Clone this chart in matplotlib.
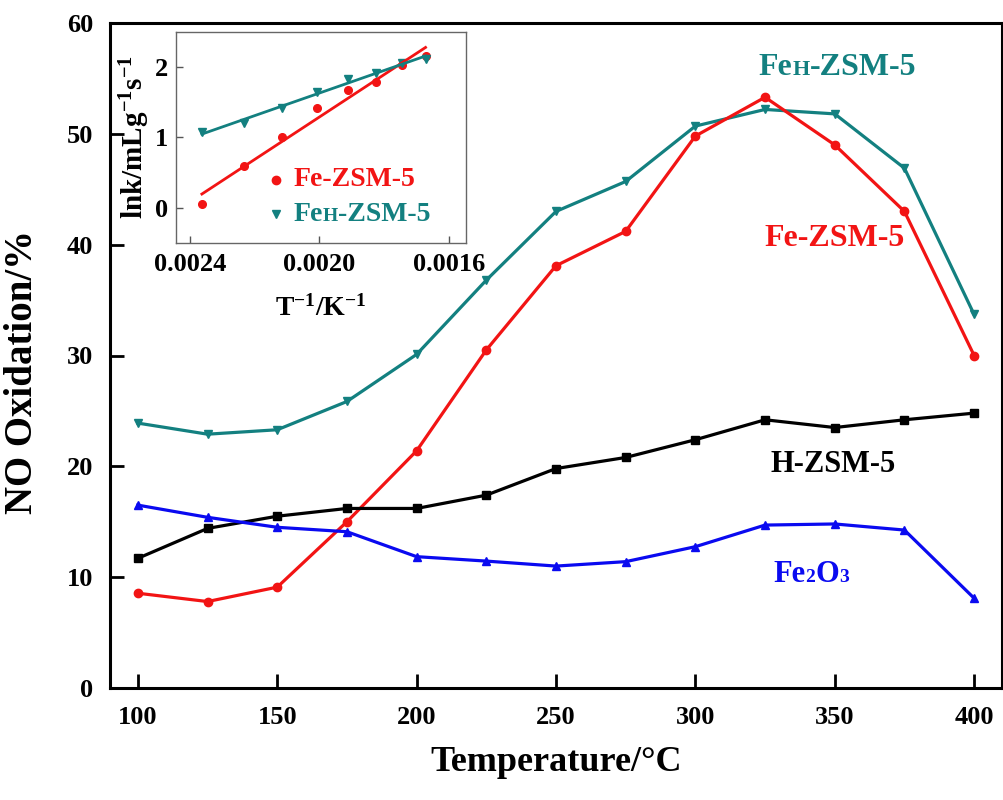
import numpy as np
import matplotlib
matplotlib.use("Agg")
import matplotlib.pyplot as plt
from matplotlib.ticker import FormatStrFormatter
from matplotlib.offsetbox import TextArea, HPacker, DrawingArea, AnnotationBbox
from matplotlib.lines import Line2D

plt.rcParams['font.family'] = ['Liberation Serif', 'DejaVu Serif']
plt.rcParams['font.weight'] = 'bold'
plt.rcParams['axes.labelweight'] = 'bold'
plt.rcParams['mathtext.default'] = 'regular'

# main chart data (NO oxidation vs temperature)
temps = [100, 125, 150, 175, 200, 225, 250, 275, 300, 325, 350, 375, 400]
h_zsm5 = [11.7, 14.4, 15.5, 16.2, 16.2, 17.4, 19.8, 20.8, 22.4, 24.2, 23.5, 24.2, 24.8]
fe2o3 = [16.5, 15.4, 14.5, 14.1, 11.85, 11.45, 11.0, 11.4, 12.75, 14.7, 14.8, 14.25, 8.1]
fe_zsm5 = [8.55, 7.8, 9.1, 15.0, 21.4, 30.5, 38.1, 41.2, 49.8, 53.3, 49.0, 43.0, 30.0]
feh_zsm5 = [23.9, 22.9, 23.3, 25.85, 30.1, 36.8, 43.0, 45.7, 50.7, 52.2, 51.8, 46.9, 33.7]

# inset data (Arrhenius plot)
inv_t = [0.002363, 0.002232, 0.002114, 0.002008, 0.001912, 0.001824, 0.001745, 0.001672]
lnk_fe = [0.06, 0.59, 1.0, 1.41, 1.67, 1.78, 2.03, 2.16]
lnk_feh = [1.08, 1.20, 1.41, 1.64, 1.83, 1.92, 2.05, 2.11]

RED = '#F21414'
TEAL = '#138080'
BLUE = '#0A0AF0'

fig = plt.figure(figsize=(10.04, 8), dpi=100)
ax = fig.add_axes([110 / 1004, 112 / 800, 892 / 1004, 665 / 800])

ax.plot(temps, feh_zsm5, color=TEAL, lw=2.3, marker='v', ms=6)
ax.plot(temps, fe_zsm5, color=RED, lw=2.3, marker='o', ms=6)
ax.plot(temps, h_zsm5, color='black', lw=2.3, marker='s', ms=5.5)
ax.plot(temps, fe2o3, color=BLUE, lw=2.3, marker='^', ms=6)

ax.set_xlim(90, 410)
ax.set_ylim(0, 60)
ax.set_xticks([100, 150, 200, 250, 300, 350, 400])
ax.set_yticks([0, 10, 20, 30, 40, 50, 60])
ax.tick_params(direction='in', length=10, width=2, labelsize=19)
ax.tick_params(axis='x', pad=13)
ax.tick_params(axis='y', pad=12)
for s in ax.spines.values():
    s.set_linewidth(2.2)
ax.set_xlabel('Temperature/°C', fontsize=26, labelpad=12)
ax.set_ylabel('NO Oxidation/%', fontsize=28)
ax.yaxis.set_label_coords(-0.077, 0.475)


def rich(parts, color):
    kids = [TextArea(t, textprops=dict(color=color, fontsize=sz, fontweight='bold'))
            for t, sz in parts]
    return HPacker(children=kids, align='baseline', pad=0, sep=0)


def put(axis, box, xy, coords='data', align=(0.5, 0.5)):
    ab = AnnotationBbox(box, xy, xycoords=coords, frameon=False,
                        box_alignment=align, pad=0)
    axis.add_artist(ab)


put(ax, rich([('Fe', 23), ('H', 16), ('-ZSM-5', 23)], TEAL), (351, 56.0))
put(ax, rich([('Fe-ZSM-5', 23)], RED), (350, 40.6))
put(ax, rich([('H-ZSM-5', 22)], 'black'), (349.5, 20.2))
put(ax, rich([('Fe', 22), ('2', 14), ('O', 22), ('3', 14)], BLUE), (341.5, 10.2))

# inset
axin = fig.add_axes([176 / 1004, 557 / 800, 290 / 1004, 211.3 / 800])
axin.plot(inv_t, lnk_fe, 'o', color=RED, ms=5.5)
axin.plot(inv_t, lnk_feh, 'v', color=TEAL, ms=6)
xs = np.array([inv_t[0], inv_t[-1]])
p1 = np.polyfit(inv_t, lnk_fe, 1)
p2 = np.polyfit(inv_t, lnk_feh, 1)
axin.plot(xs, np.polyval(p1, xs), color=RED, lw=2)
axin.plot(xs, np.polyval(p2, xs), color=TEAL, lw=2)

axin.set_xlim(0.002443, 0.001547)
axin.set_ylim(-0.5, 2.5)
axin.set_xticks([0.0024, 0.0020, 0.0016])
axin.set_yticks([0, 1, 2])
axin.xaxis.set_major_formatter(FormatStrFormatter('%.4f'))
axin.tick_params(direction='in', length=5, width=1, color='#555555', labelsize=19)
axin.tick_params(axis='x', pad=7)
axin.tick_params(axis='y', pad=6)
for s in axin.spines.values():
    s.set_linewidth(1)
    s.set_color('#666666')
axin.set_xlabel('T$^{-1}$/K$^{-1}$', fontsize=20, labelpad=14)
axin.set_ylabel('lnk/mLg$^{-1}$s$^{-1}$', fontsize=21, labelpad=2)


def legrow(marker, color, parts):
    da = DrawingArea(14, 14, 0, 0)
    da.add_artist(Line2D([7], [7], marker=marker, color=color, ms=6, ls='none'))
    txt = rich(parts, color)
    return HPacker(children=[da, txt], align='center', pad=0, sep=6)


put(axin, legrow('o', RED, [('Fe-ZSM-5', 20)]), (0.31, 0.30), 'axes fraction', (0, 0.5))
put(axin, legrow('v', TEAL, [('Fe', 20), ('H', 14), ('-ZSM-5', 20)]), (0.31, 0.135),
    'axes fraction', (0, 0.5))

fig.savefig('out.png', dpi=100)
